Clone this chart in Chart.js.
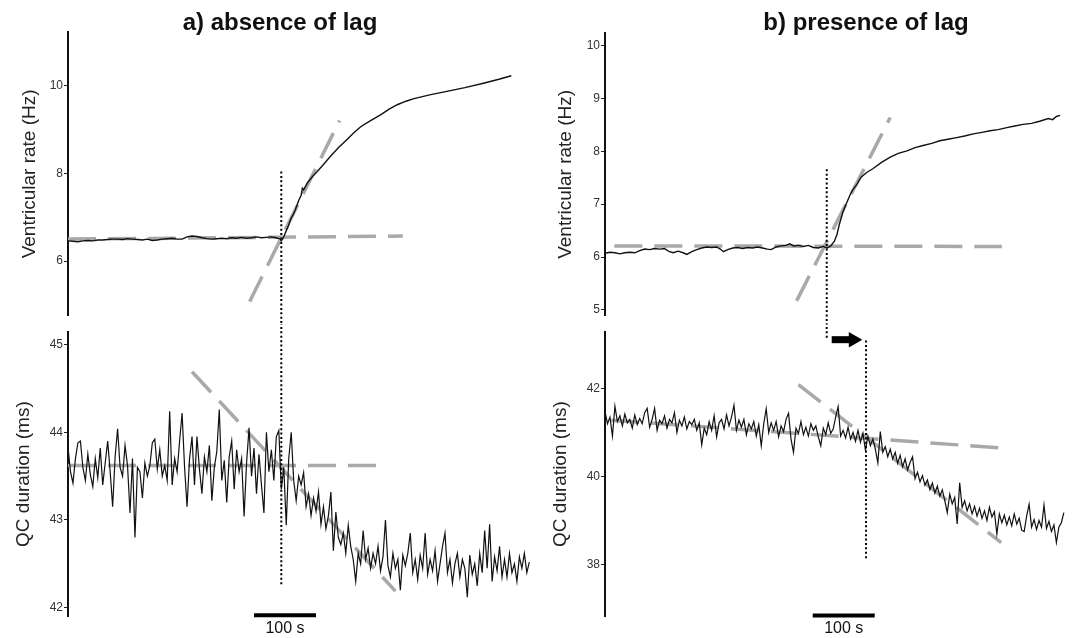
<!DOCTYPE html>
<html>
<head>
<meta charset="utf-8">
<script src="https://cdn.jsdelivr.net/npm/chart.js@4.4.1/dist/chart.umd.min.js"></script>
<style>
  html, body { margin: 0; padding: 0; background: #fff; }
  #fig { position: relative; width: 1077px; height: 638px; overflow: hidden; background: #fff; }
  #fig canvas { position: absolute; }
</style>
</head>
<body>
<div id="fig">
  <canvas id="rateA" width="540" height="324" style="left:0;top:0"></canvas>
  <canvas id="qcA" width="540" height="314" style="left:0;top:324px"></canvas>
  <canvas id="rateB" width="540" height="324" style="left:537px;top:0"></canvas>
  <canvas id="qcB" width="540" height="314" style="left:537px;top:324px"></canvas>
</div>
<script>
// Tiempo en segundos desde el inicio del registro (eje x oculto)
const timeMax = 758;
const qcStep = 4; // un valor de QC cada 4 s

// ---- a) absence of lag ----
const rateTimeA = [0, 8, 16, 24, 32, 40, 48, 56, 64, 72, 80, 88, 96, 104, 112, 120, 128, 136, 144, 152,
  160, 168, 176, 184, 192, 200, 208, 216, 224, 232, 240, 248, 256, 264, 272, 280, 288, 296, 304, 312,
  320, 328, 336, 342, 344, 347, 350, 355, 360, 363, 367, 372, 376, 378, 380, 386, 394, 402, 412, 423,
  436, 450, 461, 472, 488, 504, 518, 531, 545, 558, 585, 613, 640, 670, 695, 715];
const rateValA = [6.46, 6.45, 6.44, 6.46, 6.47, 6.46, 6.48, 6.48, 6.49, 6.50, 6.50, 6.49, 6.51, 6.50, 6.49, 6.48, 6.50, 6.47, 6.48, 6.50,
  6.51, 6.52, 6.50, 6.50, 6.55, 6.57, 6.56, 6.53, 6.51, 6.50, 6.51, 6.52, 6.51, 6.53, 6.52, 6.54, 6.52, 6.53, 6.55, 6.53,
  6.54, 6.55, 6.53, 6.50, 6.46, 6.52, 6.62, 6.79, 6.98, 7.05, 7.18, 7.38, 7.50, 7.66, 7.62, 7.78, 7.92, 8.04, 8.20, 8.38,
  8.58, 8.77, 8.92, 9.06, 9.20, 9.33, 9.46, 9.56, 9.64, 9.70, 9.79, 9.87, 9.95, 10.05, 10.14, 10.22];
const qcValA = [43.83, 43.55, 43.42, 43.70, 43.88, 43.90, 43.60, 43.45, 43.75, 43.52, 43.38, 43.70, 43.48, 43.82, 43.40, 43.65,
  43.90, 43.55, 43.15, 43.72, 44.04, 43.60, 43.50, 43.85, 43.62, 43.08, 43.70, 42.80, 43.60, 43.55, 43.25, 43.65,
  43.50, 43.62, 43.88, 43.92, 43.58, 43.80, 43.50, 43.62, 43.45, 44.24, 43.40, 43.70, 43.55, 43.90, 44.22, 43.60,
  43.15, 43.70, 43.95, 43.40, 43.95, 43.58, 43.30, 43.72, 43.55, 43.85, 43.22, 43.60, 43.78, 44.26, 43.45, 43.68,
  43.20, 43.72, 43.90, 43.35, 43.80, 43.55, 43.70, 43.04, 43.65, 44.05, 43.50, 43.82, 43.30, 43.75, 43.40, 43.08,
  44.00, 43.55, 43.80, 43.45, 43.95, 44.02, 43.35, 43.60, 42.94, 43.70, 44.00, 43.45, 43.22, 43.50, 43.40, 43.54,
  43.15, 43.30, 43.05, 43.25, 43.10, 43.32, 42.95, 43.15, 42.90, 43.05, 43.32, 42.65, 43.09, 42.80, 42.72, 42.85,
  42.62, 42.94, 42.70, 42.55, 42.30, 42.62, 42.50, 42.88, 42.55, 42.68, 42.45, 42.62, 42.50, 42.70, 42.42, 42.58,
  43.00, 42.48, 42.35, 42.62, 42.45, 42.55, 42.20, 42.60, 42.48, 42.62, 42.85, 42.40, 42.55, 42.32, 42.60, 42.45,
  42.85, 42.38, 42.55, 42.42, 42.65, 42.30, 42.50, 42.70, 42.85, 42.40, 42.55, 42.28, 42.50, 42.62, 42.35, 42.55,
  42.45, 42.12, 42.60, 42.38, 42.50, 42.25, 42.62, 42.40, 42.88, 42.45, 42.95, 42.30, 42.58, 42.42, 42.70, 42.35,
  42.55, 42.35, 42.62, 42.40, 42.50, 42.30, 42.58, 42.45, 42.62, 42.40, 42.52];
const rateFitFlatA = [[0, 6.50], [540, 6.57]];
const rateFitSlopeA = [[293, 5.08], [438, 9.20]];
const qcFitFlatA = [[0, 43.62], [504, 43.62]];
const qcFitSlopeA = [[200, 44.69], [528, 42.19]];
const onsetRateA = [[344, 8.04], [344, 4.5]];
const onsetQcA = [[344, 45.3], [344, 42.25]];
const scaleBarA = [[300, 41.914], [400, 41.914]];

// ---- b) presence of lag ----
const rateTimeB = [0, 8, 16, 24, 32, 40, 48, 56, 64, 72, 80, 88, 96, 104, 110, 118, 126, 132, 140, 148,
  156, 164, 172, 180, 186, 191, 198, 206, 214, 222, 230, 238, 246, 254, 262, 268, 276, 284, 292, 298,
  304, 312, 320, 328, 336, 344, 352, 358, 364, 370, 374, 378, 384, 390, 395, 400, 406, 413, 422, 432,
  446, 460, 473, 487, 500, 513, 527, 540, 553, 567, 580, 594, 608, 621, 634, 648, 661, 674, 688, 701,
  715, 722, 728, 734];
const rateValB = [6.07, 6.09, 6.08, 6.06, 6.08, 6.09, 6.08, 6.12, 6.15, 6.14, 6.16, 6.15, 6.16, 6.10, 6.08, 6.11, 6.08, 6.05, 6.10, 6.14,
  6.17, 6.19, 6.18, 6.19, 6.15, 6.10, 6.14, 6.17, 6.18, 6.16, 6.18, 6.17, 6.19, 6.17, 6.15, 6.14, 6.19, 6.21, 6.22, 6.25,
  6.21, 6.22, 6.20, 6.22, 6.18, 6.17, 6.20, 6.17, 6.21, 6.30, 6.42, 6.62, 6.86, 7.03, 7.17, 7.28, 7.37, 7.51, 7.60, 7.67,
  7.79, 7.89, 7.96, 8.01, 8.07, 8.11, 8.15, 8.20, 8.23, 8.26, 8.29, 8.33, 8.36, 8.39, 8.41, 8.45, 8.48, 8.51, 8.53, 8.57,
  8.62, 8.60, 8.66, 8.68];
const qcValB = [41.48, 41.20, 41.35, 40.92, 41.60, 41.25, 41.38, 41.15, 41.42, 41.22, 41.30, 41.10, 41.40, 41.18, 41.32, 41.20,
  41.45, 41.55, 41.12, 41.30, 41.55, 41.05, 41.28, 41.20, 41.38, 41.10, 41.30, 41.22, 41.45, 41.00, 41.28, 41.15,
  41.35, 41.08, 41.25, 41.18, 41.30, 41.05, 41.22, 40.72, 41.10, 40.95, 41.25, 41.05, 41.38, 40.90, 41.22, 41.30,
  41.08, 41.40, 41.15, 41.35, 41.62, 41.05, 41.28, 41.12, 41.30, 40.95, 41.20, 41.08, 41.25, 40.92, 41.18, 40.70,
  41.20, 41.54, 41.00, 41.22, 41.05, 41.25, 40.90, 41.15, 41.02, 41.30, 41.44, 40.85, 40.55, 41.10, 40.98, 41.25,
  40.95, 41.12, 40.92, 41.20, 41.05, 41.15, 40.90, 40.70, 41.10, 40.95, 41.22, 40.98, 41.08, 41.35, 41.59, 40.92,
  41.05, 40.88, 41.12, 40.85, 41.00, 40.80, 41.05, 40.78, 40.98, 40.60, 40.92, 40.70, 40.85, 40.62, 40.31, 41.02,
  40.55, 40.68, 40.45, 40.62, 40.40, 40.55, 40.30, 40.48, 40.22, 40.40, 40.15, 40.32, 40.45, 39.95, 40.10, 39.88,
  40.02, 39.80, 39.92, 39.70, 39.85, 39.62, 39.78, 39.55, 39.70, 39.45, 39.18, 39.60, 39.38, 39.52, 38.92, 39.86,
  39.30, 39.45, 39.22, 39.38, 39.15, 39.32, 39.10, 39.28, 39.05, 39.22, 39.00, 39.30, 39.08, 39.20, 38.69, 39.15,
  38.95, 39.12, 38.90, 39.08, 38.88, 39.15, 38.92, 39.05, 38.78, 38.75, 39.10, 39.37, 38.85, 39.02, 38.80, 39.00,
  38.85, 39.35, 38.82, 38.98, 38.75, 38.90, 38.50, 38.85, 38.95, 39.18];
const rateFitFlatB = [[15, 6.21], [640, 6.20]];
const rateFitSlopeB = [[309, 5.17], [460, 8.64]];
const qcFitFlatB = [[10, 41.28], [639, 40.65]];
const qcFitSlopeB = [[312, 42.09], [639, 38.50]];
const onsetRateB = [[357.6, 7.66], [357.6, 4.7]];
const onsetQcB = [[357.6, 43.5], [357.6, 43.13]];
const onsetQcLagB = [[421, 43.09], [421, 38.11]];
const lagArrowB = [[365.6, 43.11], [395, 43.11]];
const lagArrowHeadB = [[400.5, 43.11]];
const scaleBarB = [[335, 36.84], [435, 36.84]];

// Rangos y marcas de los ejes
const rateRangeA = [4.754, 11.216];
const rateTicksA = [6, 8, 10];
const qcRangeA = [41.906, 45.14];
const qcTicksA = [42, 43, 44, 45];
const rateRangeB = [4.887, 10.24];
const rateTicksB = [5, 6, 7, 8, 9, 10];
const qcRangeB = [36.83, 43.28];
const qcTicksB = [38, 40, 42];

const FONT = "'Liberation Sans', Arial, sans-serif";
const GREY = '#a9a9a9';

function xy(pairs) {
    return pairs.map(p => ({ x: p[0], y: p[1] }));
}

function series(times, values) {
    return values.map((v, i) => ({ x: times[i], y: v }));
}

function stepSeries(values) {
    return values.map((v, i) => ({ x: i * qcStep, y: v }));
}

// Capas de cada panel
function trace(data, width) {
    return { data: data, borderColor: '#111', borderWidth: width, pointRadius: 0, tension: 0 };
}
function fitLine(pairs) {
    return { data: xy(pairs), borderColor: GREY, borderWidth: 3.5, borderDash: [28, 12], borderCapStyle: 'butt', pointRadius: 0, clip: false };
}
function dotted(pairs) {
    return { data: xy(pairs), borderColor: '#000', borderWidth: 2, borderDash: [2, 2.4], borderCapStyle: 'butt', pointRadius: 0, clip: false };
}
function bar(pairs, width) {
    return { data: xy(pairs), borderColor: '#000', borderWidth: width, borderCapStyle: 'butt', pointRadius: 0, clip: false };
}

// Textos sobre el canvas (títulos de panel y etiqueta de la barra de escala)
function textPlugin(items) {
    return {
        id: 'panelText',
        afterDraw(chart) {
            const ctx = chart.ctx;
            items.forEach(it => {
                ctx.save();
                ctx.font = it.font;
                ctx.fillStyle = '#111';
                ctx.textAlign = 'center';
                ctx.textBaseline = 'alphabetic';
                const x = it.xValue !== undefined ? chart.scales.x.getPixelForValue(it.xValue) : it.x;
                ctx.fillText(it.text, x, it.y);
                ctx.restore();
            });
        }
    };
}

function panel(id, cfg) {
    return new Chart(document.getElementById(id), {
        type: 'line',
        data: { datasets: cfg.datasets },
        options: {
            responsive: false,
            animation: false,
            events: [],
            layout: { autoPadding: false, padding: { left: 0, right: 2, top: cfg.padTop, bottom: cfg.padBottom } },
            plugins: { legend: { display: false }, tooltip: { enabled: false } },
            scales: {
                x: { type: 'linear', display: false, min: 0, max: timeMax },
                y: {
                    type: 'linear',
                    min: cfg.range[0],
                    max: cfg.range[1],
                    afterFit: s => { s.width = 68; },
                    afterBuildTicks: s => { s.ticks = cfg.ticks.map(v => ({ value: v })); },
                    grid: { display: true, drawOnChartArea: false, drawTicks: true, tickLength: 4, color: '#222', lineWidth: 1 },
                    border: { display: true, color: '#111', width: 2 },
                    ticks: { padding: 1, color: '#333', font: { family: FONT, size: 12 }, callback: v => String(v) },
                    title: {
                        display: true,
                        text: cfg.title,
                        color: '#222',
                        font: { family: FONT, size: 19 },
                        padding: { top: cfg.titlePad, bottom: 0 }
                    }
                }
            }
        },
        plugins: [textPlugin(cfg.texts || [])]
    });
}

panel('rateA', {
    range: rateRangeA, ticks: rateTicksA, padTop: 32, padBottom: 7,
    title: 'Ventricular rate (Hz)', titlePad: 18,
    texts: [{ text: 'a) absence of lag', x: 280, y: 30, font: 'bold 24px ' + FONT }],
    datasets: [dotted(onsetRateA), trace(series(rateTimeA, rateValA), 1.4), fitLine(rateFitFlatA), fitLine(rateFitSlopeA)]
});

panel('qcA', {
    range: qcRangeA, ticks: qcTicksA, padTop: 7, padBottom: 22,
    title: 'QC duration (ms)', titlePad: 12,
    texts: [{ text: '100 s', xValue: 350, y: 309, font: '16px ' + FONT }],
    datasets: [dotted(onsetQcA), bar(scaleBarA, 4), trace(stepSeries(qcValA), 1.2), fitLine(qcFitFlatA), fitLine(qcFitSlopeA)]
});

panel('rateB', {
    range: rateRangeB, ticks: rateTicksB, padTop: 33, padBottom: 6,
    title: 'Ventricular rate (Hz)', titlePad: 17,
    texts: [{ text: 'b) presence of lag', x: 329, y: 30, font: 'bold 24px ' + FONT }],
    datasets: [dotted(onsetRateB), trace(series(rateTimeB, rateValB), 1.4), fitLine(rateFitFlatB), fitLine(rateFitSlopeB)]
});

panel('qcB', {
    range: qcRangeB, ticks: qcTicksB, padTop: 6, padBottom: 22,
    title: 'QC duration (ms)', titlePad: 12,
    texts: [{ text: '100 s', xValue: 385, y: 309, font: '16px ' + FONT }],
    datasets: [
        dotted(onsetQcB), dotted(onsetQcLagB),
        bar(lagArrowB, 7),
        { data: xy(lagArrowHeadB), showLine: false, pointStyle: 'triangle', rotation: 90, pointRadius: 9,
          backgroundColor: '#000', borderColor: '#000', borderWidth: 0, clip: false },
        bar(scaleBarB, 4),
        trace(stepSeries(qcValB), 1.2), fitLine(qcFitFlatB), fitLine(qcFitSlopeB)
    ]
});
</script>
</body>
</html>
